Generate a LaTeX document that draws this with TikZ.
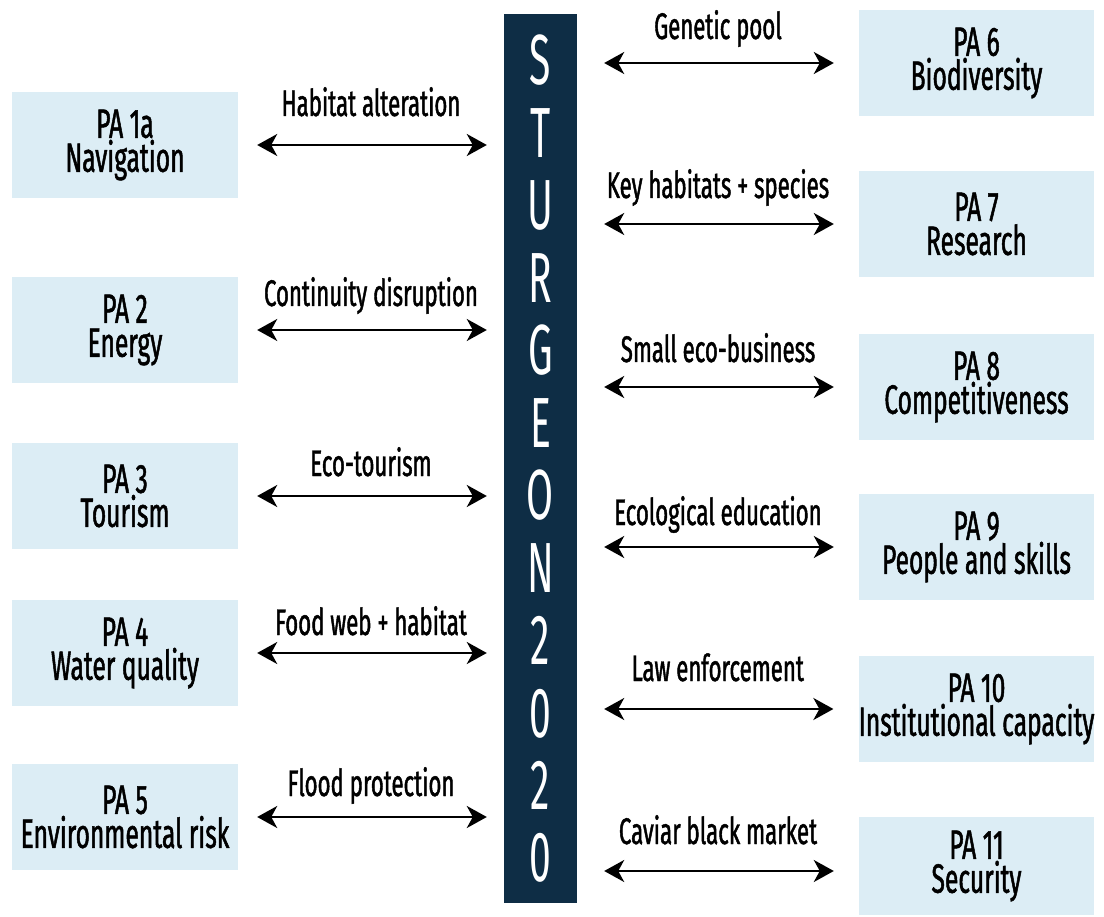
\documentclass[tikz,border=0pt]{standalone}
\usepackage{fontspec}
\setmainfont{Fira Sans}
\newfontfamily\condfont[FakeStretch=0.6,FakeBold=1.2]{Fira Sans}
\newfontfamily\barfont[FakeStretch=0.55]{Fira Sans}
\usetikzlibrary{arrows.meta}
\definecolor{boxblue}{HTML}{DCEDF5}
\definecolor{navy}{HTML}{0E2D45}
\begin{document}
\begin{tikzpicture}[x=1pt,y=-1pt,
  pabox/.style={fill=boxblue, minimum width=226pt, minimum height=106pt, inner sep=0pt,
    align=center, font=\condfont\fontsize{41}{34}\selectfont},
  link/.style={line width=2.5pt,
    {Stealth[length=20pt,width=22pt,inset=6pt]}-{Stealth[length=20pt,width=22pt,inset=6pt]}},
  lab/.style={font=\condfont\fontsize{37}{38}\selectfont, inner sep=0pt, anchor=base},
  barletter/.style={text=white, font=\barfont\fontsize{71}{71}\selectfont, inner sep=0pt, anchor=base}]
\useasboundingbox (0,0) rectangle (1104,917);

% central bar
\node[fill=navy, minimum width=73pt, minimum height=889pt, inner sep=0pt] (bar) at (540.5,458.5) {};
\foreach \ch [count=\i from 0] in {S,T,U,R,G,E,O,N,2,0,2,0}
  \node[barletter] (l\i) at (540.5,{85+72.45*\i}) {\ch};

% left boxes
\node[pabox] (pa1a) at (125,145) {PA 1a\\Navigation};
\node[pabox] (pa2) at (125,330) {PA 2\\Energy};
\node[pabox] (pa3) at (125,496) {PA 3\\Tourism};
\node[pabox] (pa4) at (125,653) {PA 4\\Water quality};
\node[pabox] (pa5) at (125,817) {PA 5\\Environmental risk};

% right boxes
\node[pabox, minimum width=235pt] (pa6) at (976.5,63) {PA 6\\Biodiversity};
\node[pabox, minimum width=235pt] (pa7) at (976.5,224) {PA 7\\Research};
\node[pabox, minimum width=235pt] (pa8) at (976.5,387) {PA 8\\Competitiveness};
\node[pabox, minimum width=235pt] (pa9) at (976.5,547) {PA 9\\People and skills};
\node[pabox, minimum width=235pt] (pa10) at (976.5,709) {PA 10\\Institutional capacity};
\node[pabox, minimum width=235pt, minimum height=98pt] (pa11) at (976.5,866) {PA 11\\Security};

% left connectors
\draw[link, shorten <=19pt, shorten >=17pt] (pa1a.east) -- (pa1a.east -| bar.west)
  node[lab, midway, yshift=29pt] {Habitat alteration};
\draw[link, shorten <=19pt, shorten >=17pt] (pa2.east) -- (pa2.east -| bar.west)
  node[lab, midway, yshift=24pt] {Continuity disruption};
\draw[link, shorten <=19pt, shorten >=17pt] (pa3.east) -- (pa3.east -| bar.west)
  node[lab, midway, yshift=20pt] {Eco-tourism};
\draw[link, shorten <=19pt, shorten >=17pt] (pa4.east) -- (pa4.east -| bar.west)
  node[lab, midway, yshift=18pt] {Food web + habitat};
\draw[link, shorten <=19pt, shorten >=17pt] (pa5.east) -- (pa5.east -| bar.west)
  node[lab, midway, yshift=21pt] {Flood protection};

% right connectors
\draw[link, shorten <=27pt, shorten >=25pt] (pa6.west -| bar.east) -- (pa6.west)
  node[lab, midway, yshift=24pt] {Genetic pool};
\draw[link, shorten <=27pt, shorten >=25pt] (pa7.west -| bar.east) -- (pa7.west)
  node[lab, midway, yshift=26pt] {Key habitats + species};
\draw[link, shorten <=27pt, shorten >=25pt] (pa8.west -| bar.east) -- (pa8.west)
  node[lab, midway, yshift=25pt] {Small eco-business};
\draw[link, shorten <=27pt, shorten >=25pt] (pa9.west -| bar.east) -- (pa9.west)
  node[lab, midway, yshift=22pt] {Ecological education};
\draw[link, shorten <=27pt, shorten >=25pt] (pa10.west -| bar.east) -- (pa10.west)
  node[lab, midway, yshift=28pt] {Law enforcement};
\draw[link, shorten <=27pt, shorten >=25pt] ([yshift=-5pt]pa11.west -| bar.east) -- ([yshift=-5pt]pa11.west)
  node[lab, midway, yshift=27pt] {Caviar black market};
\end{tikzpicture}
\end{document}
